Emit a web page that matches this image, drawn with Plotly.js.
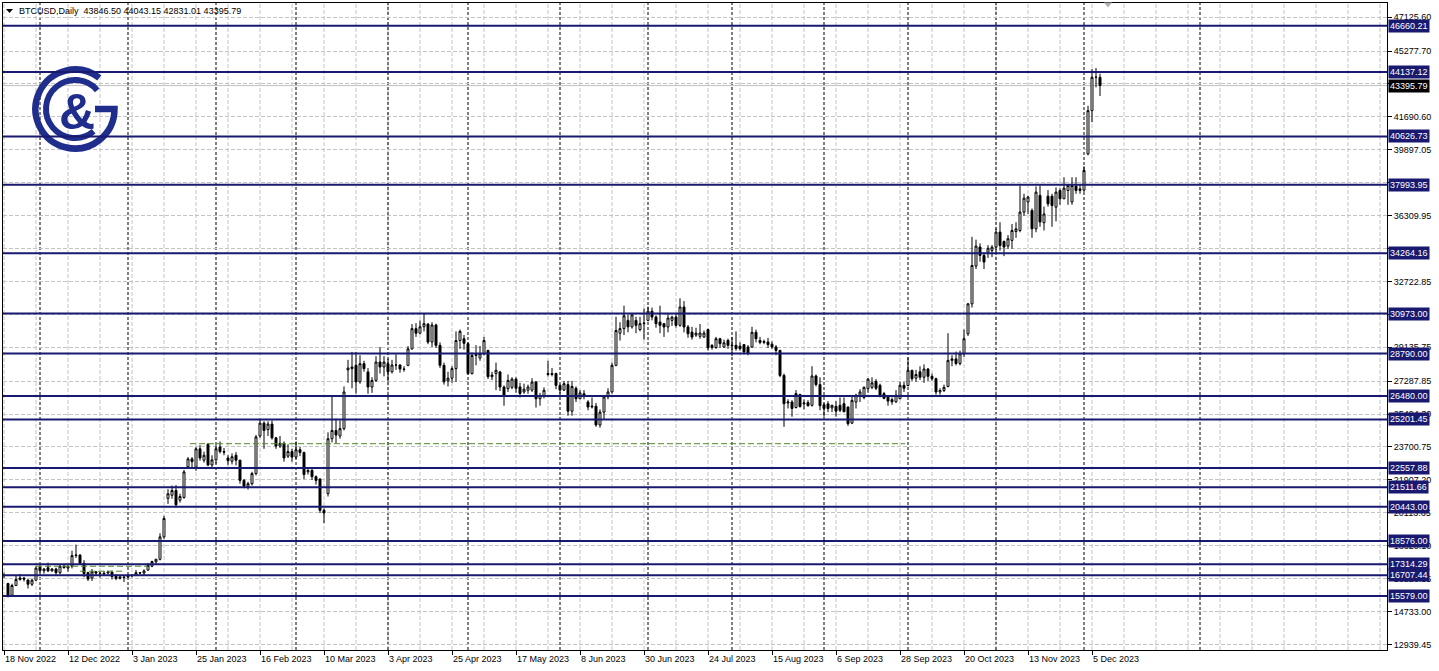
<!DOCTYPE html>
<html><head><meta charset="utf-8">
<script src="https://cdn.plot.ly/plotly-3.0.1.min.js"></script>
<style>html,body{margin:0;padding:0;background:#fff;}#chart{width:1439px;height:671px;}</style>
</head><body><div id="chart"></div>
<script>
// ---- data ----
const symbolTitle = "BTCUSD,Daily";
const startDate = "2022-11-18";
const open = [
16690,16260,15620,16150,16480,16560,16450,16220,16440,
17150,16950,17120,16950,17050,16850,17200,17100,17200,17780,17810,17360,16850,16560,16900,16830,16820,16830,16880,16640,16540,16620,
16620,16680,16700,16850,16830,16990,17200,17440,17580,18800,20900,21070,21330,20800,20950,22620,23050,22600,23600,22980,23850,22720,
23000,23700,23450,23100,22920,23250,22980,21880,21550,21700,22250,24300,25000,24650,24950,24200,23750,23900,23200,23450,
23150,23550,23400,22350,22420,22080,21950,20250,21160,24150,24600,24300,24700,27900,27970,28150,27250,28240,27790,26970,27330,28330,28060,
28240,27800,28170,28170,27950,28150,29050,30150,29900,30250,30400,29420,30350,29240,28150,27300,27450,27970,29500,29600,
29330,27700,28690,28550,28780,28960,27530,27700,27790,26970,26880,26950,27400,26970,26700,26790,26800,27240,26330,26500,27700,27650,27700,
27060,26800,27100,25650,26900,26330,26600,26150,25880,25920,24900,25600,26430,26700,28150,29900,30150,30600,30250,30600,30100,30420,
30600,31100,30780,30510,30420,30240,30600,30780,30330,31330,30240,29960,29800,29730,29690,30100,29240,29120,29600,29150,29510,
29200,29240,29200,29280,29150,29150,29950,29500,29400,29420,29300,29150,28960,27600,26100,26150,25850,26560,26050,26120,25970,27570,27100,
26000,26050,25830,25920,25970,26060,25880,25000,26150,26520,26400,26880,26950,27280,27060,26610,26430,26280,26160,26330,27060,
27050,27880,27450,27800,27500,27950,27550,27420,26700,26780,27000,28420,28500,28250,28780,29870,31500,33560,34600,34140,34320,34410,
34590,35410,34900,34650,34960,35440,35500,36500,37050,36590,35590,37410,35920,37370,37370,36770,37680,37230,37680,37050,37920,37680,
37700,39670,42030,43850,43846.50];
const high = [
16860,16300,16250,16700,16780,16600,16480,16530,17200,
17300,17100,17400,17100,17120,17280,17300,17230,18050,18380,17850,17530,16900,17050,16920,16860,16950,16950,16960,16780,16660,16640,
16760,16780,17000,16880,17030,17380,17500,17600,19000,19950,21400,21600,21620,21150,22450,23150,23150,23700,23800,23450,23900,23250,
23800,24000,23650,23250,23350,23420,23000,21950,21800,22350,24350,25250,25100,25100,25150,24250,24300,24000,23850,23600,
24000,23700,23450,22600,22550,22150,22000,20350,24500,26500,25250,25150,27000,28450,28880,28880,28700,28400,28000,27500,28650,29150,28650,
28500,28450,28750,28200,28100,29200,30400,30450,30600,31000,30450,30500,30420,29400,28300,27800,28100,30000,30100,29800,
29400,28850,29250,29200,29700,29000,27800,28300,27850,27050,27650,27500,27500,27200,27150,27100,27450,27300,26650,26950,28400,28000,27750,
27100,27300,27300,27300,27000,26800,26800,26250,26400,26100,25750,26500,26900,28300,30800,30500,31400,30900,31000,30800,30800,31250,
31350,31300,30880,31400,30450,31000,30850,30950,31800,31650,30350,30250,30200,30400,30050,30150,29300,29700,29650,29550,29600,
29700,30000,29400,29300,29250,30250,30100,29700,29550,29650,29450,29250,29000,27700,26300,26250,26800,26600,26300,26250,28100,27650,27500,
26100,26200,26000,26200,26400,26400,25900,26500,26600,26850,27000,27450,27500,27400,27150,26700,26450,26400,26800,27250,27250,
28580,27900,27900,28100,28200,28000,27700,27480,26900,27100,29900,28700,28900,28950,30100,31550,35150,35000,34800,34300,34700,34700,
35600,35950,34950,35250,35850,35950,37950,37500,37400,36700,37900,37950,36800,37700,37500,37850,37800,38400,38000,38400,38400,38000,
39000,42300,44300,44350,44043.15];
const low = [
16560,15500,15580,16120,16420,16370,15990,16120,16420,
16850,16800,16880,16900,16700,16760,17080,16900,17080,17650,17280,16600,16400,16400,16700,16580,16760,16750,16480,16440,16480,16340,
16550,16600,16660,16760,16680,16950,17150,17320,17520,18700,20600,20880,20400,20670,20880,22550,22500,22400,22950,22850,22650,22600,
22800,23350,23250,22700,22750,22700,21700,21450,21380,21600,22150,24200,23600,24300,24100,23600,23650,22900,23100,22900,
23050,23200,21950,22200,21900,21650,20100,19550,21000,23950,23900,24150,24600,27200,26900,26600,27150,27800,26600,26650,27250,27700,27550,
27270,27700,27900,27750,27800,28100,29000,29700,29850,30000,29300,29150,29100,28000,27100,27000,27200,27250,29050,29000,
27650,27650,28150,28400,28700,27400,27350,26800,26750,25950,26700,26850,26650,26400,26600,26600,26700,25850,25950,26350,27550,27550,26850,
26600,26750,25400,25400,26150,26300,26300,25700,25800,24800,24750,25200,26300,26600,28100,29500,29800,29950,30150,29900,30000,29550,
30550,30600,30200,29900,29700,29950,30300,30200,30250,29950,29650,29550,29700,29600,29650,28950,29000,29050,29100,29100,29050,
28650,28950,28950,28750,28700,29100,29400,29300,29300,29100,29050,28700,27500,24800,25800,25350,25800,25850,25750,25900,25900,27000,25700,
25350,25600,25600,25350,25600,25600,24850,24950,25800,26150,26300,26650,26850,26800,26400,26300,25950,26000,26100,26300,26700,
27000,27300,27250,27350,27200,27300,27300,26550,26550,26700,26950,28100,28150,28150,28600,29750,31300,33400,33800,33400,34000,34050,
34300,34400,34100,34500,34500,35100,35400,36300,36400,35100,35400,35700,35500,36800,35700,36000,36900,37200,36900,36900,37500,37500,
37600,39600,41400,43300,42831.01];
const close = [
16700,15620,16150,16480,16560,16500,16220,16440,17100,
16950,17050,16950,17050,16850,17200,17120,17200,17780,17810,17360,16800,16500,16900,16830,16820,16780,16900,16640,16540,16620,16590,
16680,16700,16850,16830,16950,17250,17460,17580,18800,19800,21150,21330,20550,21000,22340,23050,22900,23600,23100,23250,22720,23000,
23600,23450,23420,22950,23170,22980,21880,21560,21700,22250,24250,25000,24600,24950,24200,23750,23900,23100,23450,23150,
23550,23400,22200,22420,22080,21880,20250,20100,24150,24600,24350,24700,26700,28000,28060,27250,28240,27970,26970,27330,28330,28060,28330,
27800,28170,28170,27950,27930,29050,30150,29900,30250,30420,29420,30350,29240,28150,27250,27450,27970,29500,30000,29350,
27700,28690,28750,28780,29500,27530,27620,27880,26970,26450,27330,27400,26900,26620,26850,26970,27240,26330,26500,26790,27650,27700,27060,
26800,27150,25650,27000,26330,26650,26500,25880,25920,24900,25600,26430,26700,28150,30050,30150,30850,30250,30900,30330,30420,30450,
31100,30780,30420,30330,30240,30730,30780,30330,31330,30240,29870,29690,29900,29910,29910,29100,29120,29600,29330,29380,29240,
29240,29060,29060,28880,28800,29950,29600,29400,29450,29280,29150,28960,27600,26060,26150,25800,26610,25900,26100,25950,27570,27100,25950,
25800,25800,25970,25650,25700,25620,24970,26240,26520,26700,26950,27400,27200,26900,26520,26350,26200,26160,26520,27060,26900,
27880,27420,27650,27500,27950,27550,27420,26700,26780,26950,28420,28500,28250,28780,29600,31500,33590,34650,34140,33780,34530,34590,
35410,34680,34600,35050,35500,35590,36500,37260,37320,35590,37590,35960,36400,36950,36860,37590,37230,37810,37950,37950,37680,37770,
38770,42030,43850,43846.50,43395.79];
const levels = [46660.21,44137.12,40626.73,37993.95,34264.16,30973.00,28790.00,26480.00,25201.45,22557.88,21511.66,20443.00,18576.00,17314.29,16707.44,15579.00];
const lastPrice = 43395.79;
const greenLevels = [23880, 17200, 16930];
const yTickVals = [47125.60,45277.70,43484.15,41690.60,39897.05,38103.50,36309.95,34516.40,32722.85,30929.30,29135.75,27287.85,25494.30,23700.75,21907.20,20113.65,18320.10,16526.55,14733.00,12939.45];
// labels fully covered by level boxes in the reference are left blank
const yTickHidden = [43484.15,38103.50,34516.40,30929.30];
const xTickLabels = ["18 Nov 2022","12 Dec 2022","3 Jan 2023","25 Jan 2023","16 Feb 2023","10 Mar 2023","3 Apr 2023","25 Apr 2023","17 May 2023","8 Jun 2023","30 Jun 2023","24 Jul 2023","15 Aug 2023","6 Sep 2023","28 Sep 2023","20 Oct 2023","13 Nov 2023","5 Dec 2023"];

// ---- calendar (weekday bars) ----
function weekdays(start, n){const out=[];const d=new Date(start+"T00:00:00Z");while(out.length<n){const w=d.getUTCDay();if(w!==0&&w!==6)out.push(d.toISOString().slice(0,10));d.setUTCDate(d.getUTCDate()+1);}return out;}
const dates = weekdays(startDate, close.length);
const xTickVals = xTickLabels.map((_,k)=>dates[k*16]);

// ---- layout helpers ----
const W=1439,H=671,ML=3,MR=52,MT=3,MB=21;
const PW=W-ML-MR, PH=H-MT-MB;
const px2paperX = x => (x-ML)/PW;
const px2paperY = y => (H-MB-y)/PH;
const NAVY="#191970";
const FONT="Liberation Sans, Arial, sans-serif";
const XR=[-0.25, 345.75];

const shapes=[];
for(let k=0;k<=344;k+=8){shapes.push({type:"line",xref:"x",yref:"paper",x0:k,x1:k,y0:0,y1:1,layer:"below",line:{color:"#c4c4c4",width:1,dash:"4px,2px"}});}
const seps=[];
for(let i=1;i<dates.length;i++){if(dates[i].slice(0,7)!==dates[i-1].slice(0,7))seps.push(i);}
seps.push(299);
seps.forEach(i=>shapes.push({type:"line",xref:"x",yref:"paper",x0:i,x1:i,y0:0,y1:1,layer:"below",line:{color:"#000",width:1,dash:"3px,2px"}}));
shapes.push({type:"line",xref:"paper",yref:"y",x0:0,x1:1,y0:lastPrice,y1:lastPrice,layer:"below",line:{color:"#c0c0c0",width:1}});
const GREEN="#4f8a2a";
shapes.push({type:"line",xref:"x",yref:"y",x0:46.5,x1:225.25,y0:greenLevels[0],y1:greenLevels[0],layer:"above",line:{color:GREEN,width:1,dash:"6px,3px"}});
shapes.push({type:"line",xref:"x",yref:"y",x0:8,x1:36,y0:greenLevels[1],y1:greenLevels[1],layer:"above",line:{color:GREEN,width:1,dash:"6px,3px"}});
shapes.push({type:"line",xref:"x",yref:"y",x0:19,x1:30,y0:greenLevels[2],y1:greenLevels[2],layer:"above",line:{color:GREEN,width:1,dash:"6px,3px"}});
levels.forEach(v=>shapes.push({type:"line",xref:"paper",yref:"y",x0:0,x1:1,y0:v,y1:v,layer:"above",line:{color:NAVY,width:2}}));
const tri=(cx,cy,w,h)=>`M${px2paperX(cx-w/2)},${px2paperY(cy-h/2)} L${px2paperX(cx+w/2)},${px2paperY(cy-h/2)} L${px2paperX(cx)},${px2paperY(cy+h/2)} Z`;
shapes.push({type:"path",xref:"paper",yref:"paper",path:tri(9.5,11,7,4),fillcolor:"#000",line:{width:0}});
shapes.push({type:"path",xref:"paper",yref:"paper",path:tri(1108,5,8,5),fillcolor:"#b0b0b0",line:{width:0}});

const annotations=[];
annotations.push({xref:"paper",yref:"paper",x:px2paperX(17),y:px2paperY(11),xanchor:"left",yanchor:"middle",showarrow:false,
  text:symbolTitle+"\u00a0\u00a0"+[open[open.length-1],high[high.length-1],low[low.length-1],close[close.length-1]].map(v=>v.toFixed(2)).join(" "),
  font:{family:FONT,size:9,color:"#000"}});
levels.forEach(v=>annotations.push({xref:"paper",yref:"y",x:1,xshift:1,y:v,xanchor:"left",yanchor:"middle",showarrow:false,
  text:v.toFixed(2),bgcolor:NAVY,borderpad:1,font:{family:FONT,size:9,color:"#fff"}}));
annotations.push({xref:"paper",yref:"y",x:1,xshift:1,y:lastPrice,xanchor:"left",yanchor:"middle",showarrow:false,
  text:lastPrice.toFixed(2),bgcolor:"#000",borderpad:1,font:{family:FONT,size:9,color:"#fff"}});
const LC="#1f2d8c";
annotations.push({xref:"paper",yref:"paper",x:px2paperX(77),y:px2paperY(112),xanchor:"center",yanchor:"middle",showarrow:false,
  text:"<b>&amp;</b>",font:{family:FONT,size:50,color:LC}});

function arcPath(cx,cy,r,a0,a1){const p=a=>[cx+r*Math.cos(a*Math.PI/180),cy+r*Math.sin(a*Math.PI/180)];const s=p(a0),e=p(a1);const large=((a0-a1+360)%360)>180?1:0;return `M${s[0].toFixed(2)},${s[1].toFixed(2)} A${r},${r} 0 ${large} 0 ${e[0].toFixed(2)},${e[1].toFixed(2)}`;}
const cx=47,cy=45;
const svg=`<svg xmlns="http://www.w3.org/2000/svg" width="96" height="92" viewBox="0 0 96 92">`+
 `<path d="${arcPath(cx,cy,39.5,-52,0)} L${cx+20},${cy}" fill="none" stroke="${LC}" stroke-width="6.5" stroke-linejoin="miter"/>`+
 `<path d="${arcPath(cx,cy,29,-40,50)}" fill="none" stroke="${LC}" stroke-width="6"/>`+
 `</svg>`;
const images=[{source:"data:image/svg+xml;charset=utf-8,"+encodeURIComponent(svg),xref:"paper",yref:"paper",
  x:px2paperX(28),y:px2paperY(64),sizex:96/PW,sizey:92/PH,xanchor:"left",yanchor:"top",sizing:"stretch",layer:"above"}];

const trace={type:"candlestick",x:dates,open:open,high:high,low:low,close:close,
  increasing:{line:{color:"#000",width:1},fillcolor:"#fff"},
  decreasing:{line:{color:"#000",width:1},fillcolor:"#000"},
  whiskerwidth:0,hoverinfo:"skip"};

const layout={width:W,height:H,margin:{l:ML,r:MR,t:MT,b:MB},paper_bgcolor:"#fff",plot_bgcolor:"#fff",showlegend:false,
  font:{family:FONT,size:9,color:"#000"},
  xaxis:{type:"category",range:XR,autorange:false,rangeslider:{visible:false},showgrid:false,zeroline:false,
    tickmode:"array",tickvals:xTickVals,ticktext:xTickLabels,ticks:"outside",ticklen:4,tickcolor:"#000",
    ticklabelposition:"outside right",showline:true,linecolor:"#000",linewidth:1,mirror:true,tickfont:{size:9}},
  yaxis:{range:[12636,47897],autorange:false,side:"right",tickmode:"array",tickvals:yTickVals,
    ticktext:yTickVals.map(v=>yTickHidden.includes(v)?"":v.toFixed(2)),
    showgrid:true,gridcolor:"#c4c4c4",griddash:"4px,2px",zeroline:false,ticks:"outside",ticklen:4,tickcolor:"#000",
    showline:true,linecolor:"#000",linewidth:1,mirror:true,tickfont:{size:9}},
  shapes:shapes,annotations:annotations,images:images,boxgap:0.3};

Plotly.newPlot("chart",[trace],layout,{displayModeBar:false,staticPlot:true});
</script></body></html>
